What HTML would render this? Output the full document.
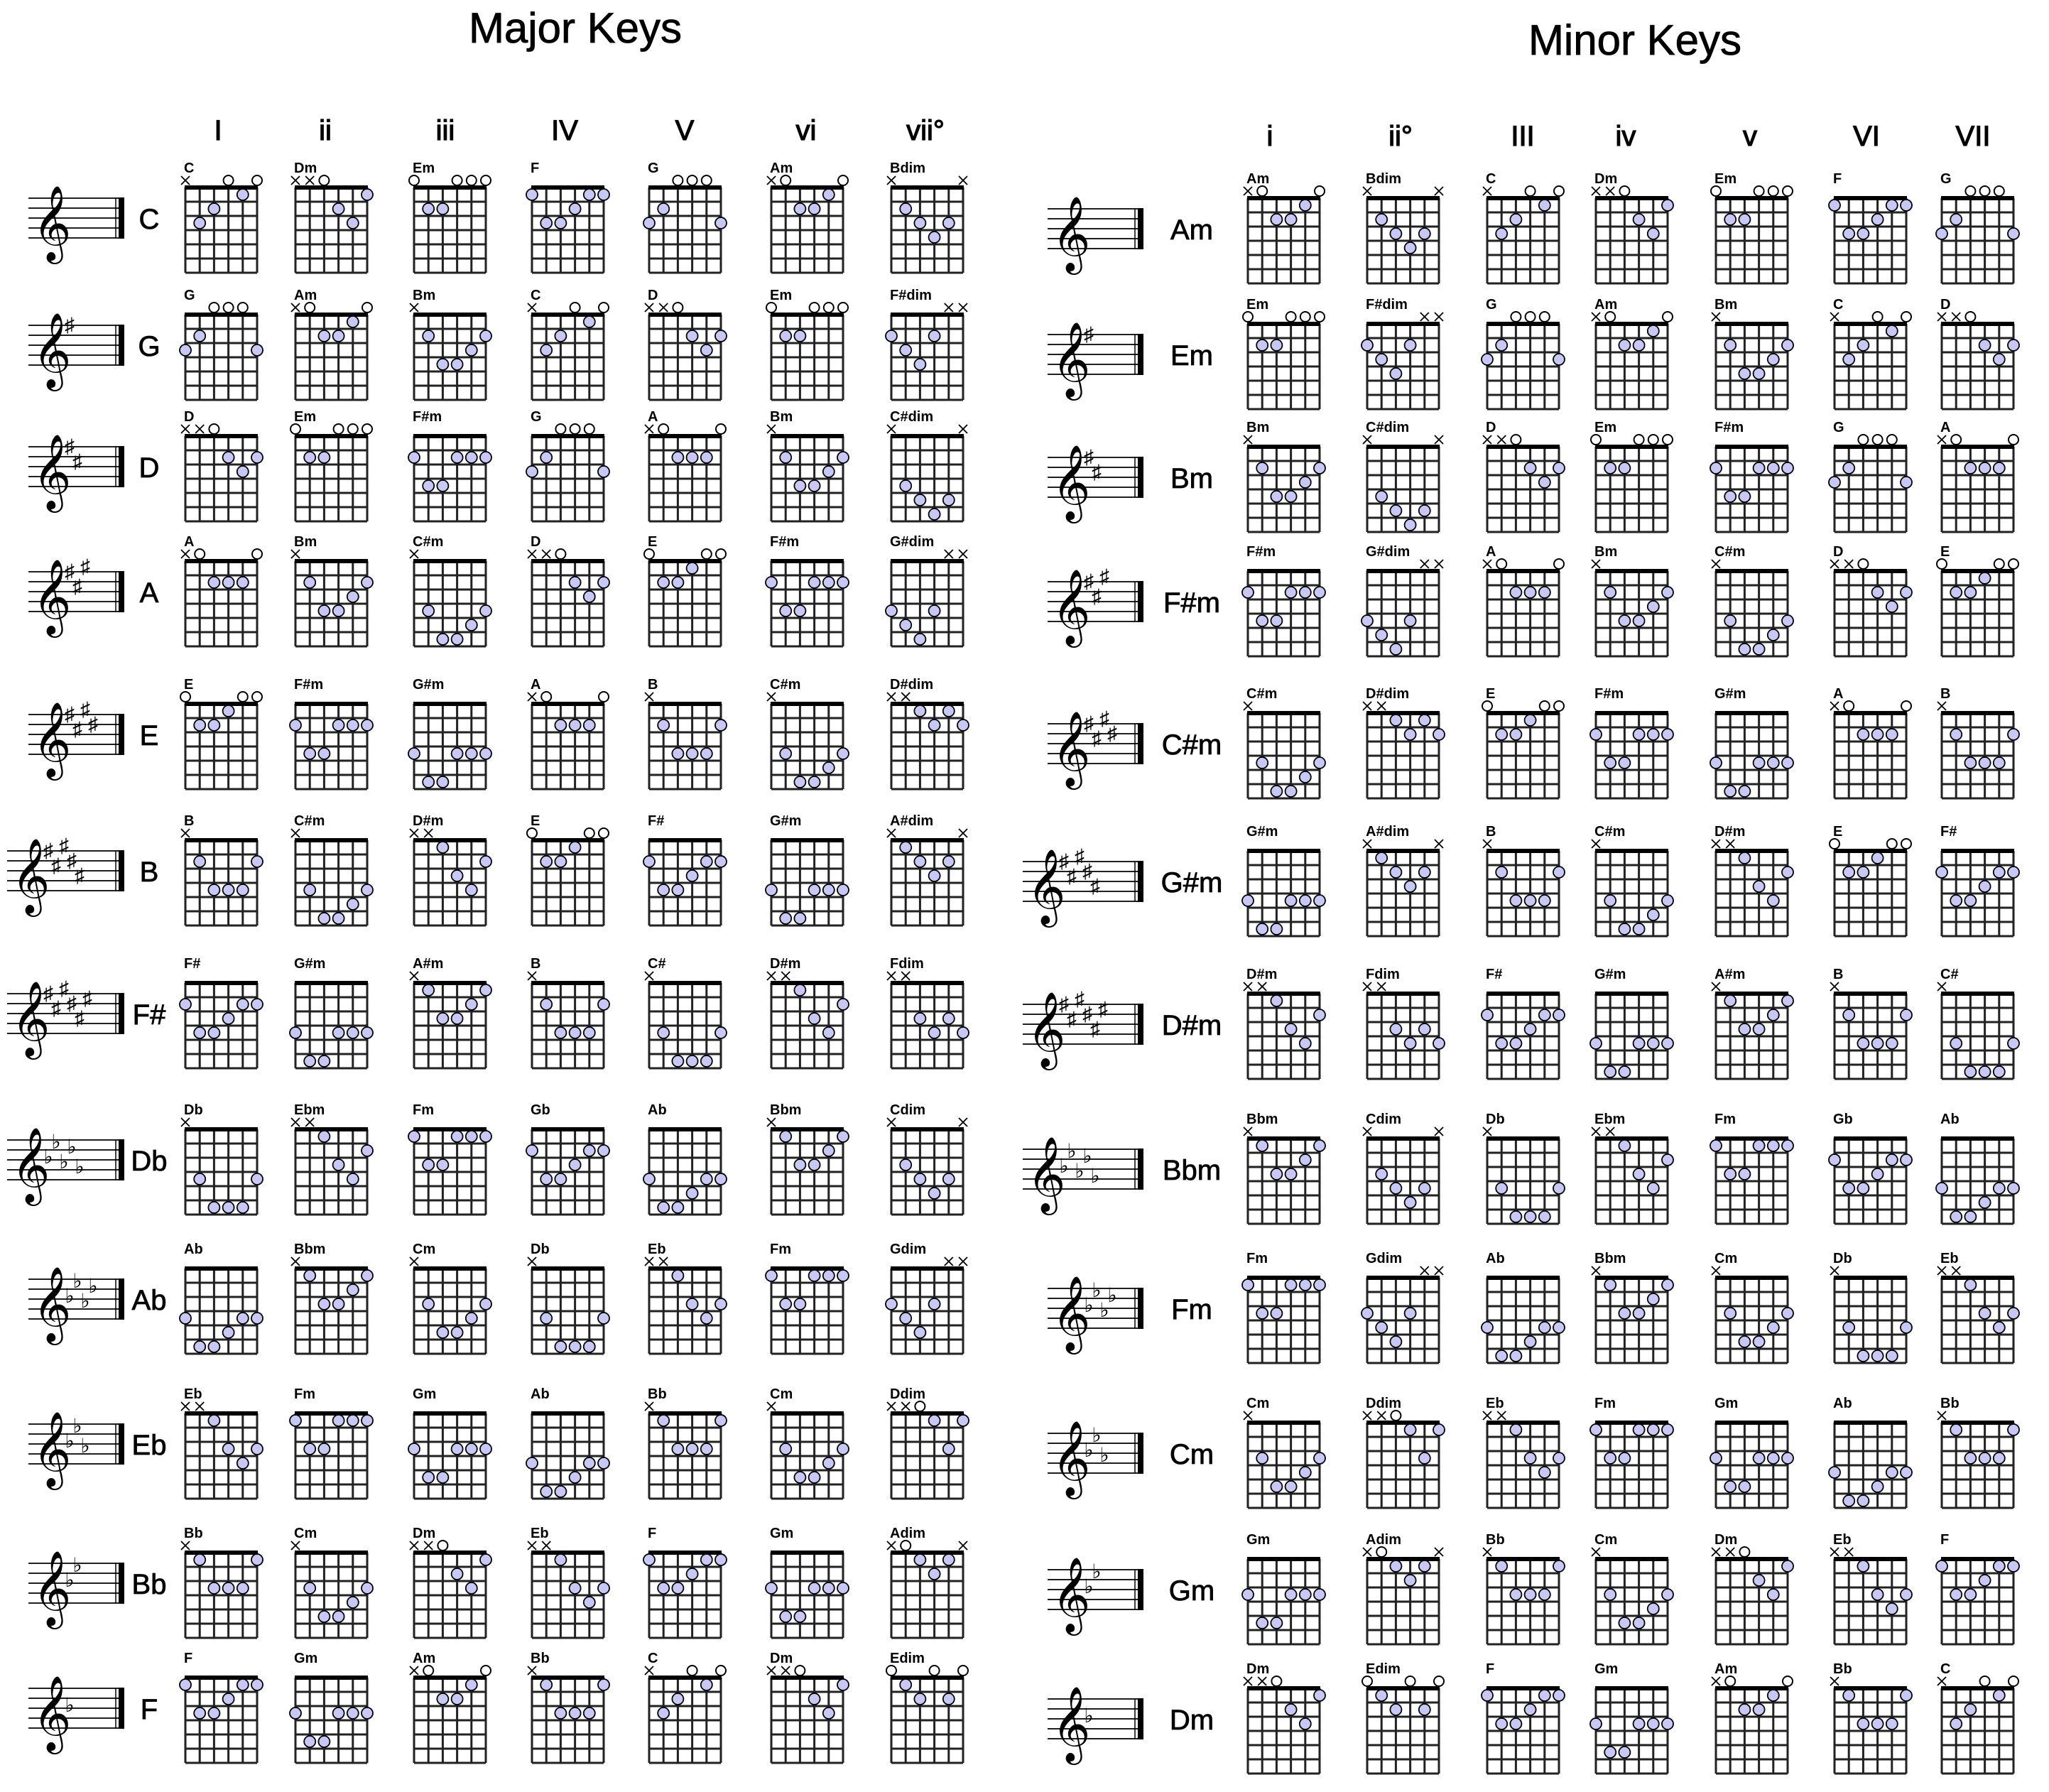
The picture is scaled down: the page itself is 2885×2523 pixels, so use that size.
<!DOCTYPE html>
<html><head><meta charset="utf-8"><style>
html,body{margin:0;padding:0;background:#fff;}
svg{display:block;}
text{font-family:"Liberation Sans","DejaVu Sans",sans-serif;}
</style></head>
<body>
<svg id="chart" xmlns="http://www.w3.org/2000/svg" width="2885" height="2523" viewBox="0 0 2885 2523">
<rect x="0" y="0" width="2885" height="2523" fill="#fff"/>
<text x="810" y="60" font-size="60" text-anchor="middle" stroke="#000" stroke-width="0.8">Major Keys</text>
<text x="2302" y="77" font-size="60" text-anchor="middle" stroke="#000" stroke-width="0.8">Minor Keys</text>
</svg>
<script>
const majorKeys=["C","G","D","A","E","B","F#","Db","Ab","Eb","Bb","F"];
const minorKeys=["Am","Em","Bm","F#m","C#m","G#m","D#m","Bbm","Fm","Cm","Gm","Dm"];
const keyAccidentals=[0,1,2,3,4,5,6,-5,-4,-3,-2,-1];
const majorNumerals=["I","ii","iii","IV","V","vi","vii°"];
const minorNumerals=["i","ii°","III","iv","v","VI","VII"];
const majorChords=[
["C","Dm","Em","F","G","Am","Bdim"],
["G","Am","Bm","C","D","Em","F#dim"],
["D","Em","F#m","G","A","Bm","C#dim"],
["A","Bm","C#m","D","E","F#m","G#dim"],
["E","F#m","G#m","A","B","C#m","D#dim"],
["B","C#m","D#m","E","F#","G#m","A#dim"],
["F#","G#m","A#m","B","C#","D#m","Fdim"],
["Db","Ebm","Fm","Gb","Ab","Bbm","Cdim"],
["Ab","Bbm","Cm","Db","Eb","Fm","Gdim"],
["Eb","Fm","Gm","Ab","Bb","Cm","Ddim"],
["Bb","Cm","Dm","Eb","F","Gm","Adim"],
["F","Gm","Am","Bb","C","Dm","Edim"]];
const minorChords=[
["Am","Bdim","C","Dm","Em","F","G"],
["Em","F#dim","G","Am","Bm","C","D"],
["Bm","C#dim","D","Em","F#m","G","A"],
["F#m","G#dim","A","Bm","C#m","D","E"],
["C#m","D#dim","E","F#m","G#m","A","B"],
["G#m","A#dim","B","C#m","D#m","E","F#"],
["D#m","Fdim","F#","G#m","A#m","B","C#"],
["Bbm","Cdim","Db","Ebm","Fm","Gb","Ab"],
["Fm","Gdim","Ab","Bbm","Cm","Db","Eb"],
["Cm","Ddim","Eb","Fm","Gm","Ab","Bb"],
["Gm","Adim","Bb","Cm","Dm","Eb","F"],
["Dm","Edim","F","Gm","Am","Bb","C"]];
const fingerings={
"C":"x32010","Cm":"x35543","C#":"x46664","C#m":"x46654","Cdim":"x3454x","C#dim":"x4565x",
"D":"xx0232","Dm":"xx0231","Db":"x46664","Ddim":"xx0131","D#m":"xx1342","D#dim":"xx1212",
"Eb":"xx1343","Ebm":"xx1342","E":"022100","Em":"022000","Edim":"012020",
"F":"133211","Fm":"133111","F#":"244322","F#m":"244222","Fdim":"xx3434","F#dim":"2342xx",
"G":"320003","Gm":"355333","Gb":"244322","G#m":"466444","Gdim":"3453xx","G#dim":"4564xx",
"A":"x02220","Am":"x02210","Ab":"466544","A#m":"x13321","Bbm":"x13321","Adim":"x0121x","A#dim":"x1232x",
"B":"x24442","Bm":"x24432","Bb":"x13331","Bdim":"x2343x"};
const majorColX=[261,416,583,749,914,1086,1255];
const majorNumX=[307,458,627,795,964,1135,1303];
const majorRowY=[264,443,614,790,991,1183,1384,1590,1786,1990,2186,2362];
const minorColX=[1757,1925,2094,2247,2416,2583,2734];
const minorNumX=[1788,1972,2144,2289,2464,2628,2778];
const minorRowY=[279,456,629,804,1004,1198,1399,1603,1799,2003,2195,2377];

const NS="http://www.w3.org/2000/svg";
const svg=document.getElementById("chart");
function mk(tag,attrs,parent){const e=document.createElementNS(NS,tag);for(const k in attrs)e.setAttribute(k,attrs[k]);(parent||svg).appendChild(e);return e;}
const CW=20.2,RH=20;

function drawChord(name,x,y){
  const g=mk("g",{});
  
  
  const f=fingerings[name]||"xxxxxx";
  const nums=[];for(const c of f){if(c!=='x'&&c!=='0')nums.push(+c);}
  const mx=nums.length?Math.max(...nums):0, mn=nums.length?Math.min(...nums):0;
  let off=0,label=false;
  if(mx>6){off=mn-3;label=true;}
  const t=mk("text",{x:x-2,y:y-21,"font-size":20,"font-weight":"bold"},g);t.textContent=name;
  for(let i=0;i<=5;i++)mk("line",{x1:x+i*CW,y1:y,x2:x+i*CW,y2:y+6*RH,stroke:"#222","stroke-width":3},g);
  for(let j=0;j<=6;j++)mk("line",{x1:x,y1:y+j*RH,x2:x+5*CW,y2:y+j*RH,stroke:"#222","stroke-width":3},g);
  if(!label)mk("rect",{x:x-1,y:y-3,width:5*CW+2,height:6,fill:"#000"},g);
  for(let s=0;s<6;s++){
    const c=f[s],cx=x+s*CW;
    if(c==='x'){mk("path",{d:`M${cx-6} ${y-16}L${cx+6} ${y-4}M${cx+6} ${y-16}L${cx-6} ${y-4}`,stroke:"#000","stroke-width":1.8,fill:"none"},g);}
    else if(c==='0'){mk("circle",{cx:cx,cy:y-10,r:7,fill:"#fff",stroke:"#000","stroke-width":2},g);}
    else{const r=(+c)-off;mk("circle",{cx:cx,cy:y+(r-0.5)*RH,r:8,fill:"#c8c8f6",stroke:"#000","stroke-width":1.8},g);}
  }
  if(label){const lt=mk("text",{x:x+5*CW+14,y:y+2.5*RH+4,"font-size":9,"font-weight":"bold"},g);lt.textContent=ordinal(mn)+" fr";}
}
function ordinal(n){return n+(n===1?"st":n===2?"nd":n===3?"rd":"th");}

function drawStaff(x0,x1,y0,acc,keyName){
  const g=mk("g",{});
  
  
  const s=14;
  for(let i=0;i<5;i++)mk("line",{x1:x0,y1:y0+i*s,x2:x1,y2:y0+i*s,stroke:"#000","stroke-width":1.8},g);
  mk("line",{x1:x1-12,y1:y0,x2:x1-12,y2:y0+4*s,stroke:"#000","stroke-width":1.5},g);
  mk("rect",{x:x1-8,y:y0-1,width:8,height:4*s+2,fill:"#000"},g);
  const cl=mk("text",{x:x0+6,y:y0+4*s+10,"font-size":92,"font-family":"DejaVu Sans, sans-serif"},g);cl.textContent="𝄞";
  const sharpPos=[0,21,-7,14,35,7,28],flatPos=[28,7,35,14,42,21,49];
  const n=Math.abs(acc);
  for(let i=0;i<n;i++){
    const dy=acc>0?sharpPos[i]:flatPos[i];
    const a=mk("text",{x:x0+58+i*11,y:y0+dy+(acc>0?9:5),"font-size":28,"font-family":"DejaVu Sans, sans-serif","text-anchor":"middle"},g);
    a.textContent=acc>0?"♯":"♭";
  }
}

majorNumerals.forEach((n,i)=>{const t=mk("text",{x:majorNumX[i],y:197,"font-size":40,"text-anchor":"middle",stroke:"#000","stroke-width":1.2});


t.textContent=n;});
minorNumerals.forEach((n,i)=>{const t=mk("text",{x:minorNumX[i],y:205,"font-size":40,"text-anchor":"middle",stroke:"#000","stroke-width":1.2});


t.textContent=n;});

majorKeys.forEach((k,r)=>{
  const y=majorRowY[r];
  const n=Math.abs(keyAccidentals[r]);
  drawStaff(n>4?10:40,175,y+15,keyAccidentals[r],k);
  const t=mk("text",{x:210,y:y+58,"font-size":40,"text-anchor":"middle",stroke:"#000","stroke-width":0.8});
  
  
  t.textContent=k;
  majorChords[r].forEach((c,i)=>drawChord(c,majorColX[i],y));
});
minorKeys.forEach((k,r)=>{
  const y=minorRowY[r];
  const n=Math.abs(keyAccidentals[r]);
  drawStaff(n>4?1440:1475,1610,y+15,keyAccidentals[r],k);
  const t=mk("text",{x:1678,y:y+58,"font-size":40,"text-anchor":"middle",stroke:"#000","stroke-width":0.8});
  
  
  t.textContent=k;
  minorChords[r].forEach((c,i)=>drawChord(c,minorColX[i],y));
});
</script>
</body></html>
